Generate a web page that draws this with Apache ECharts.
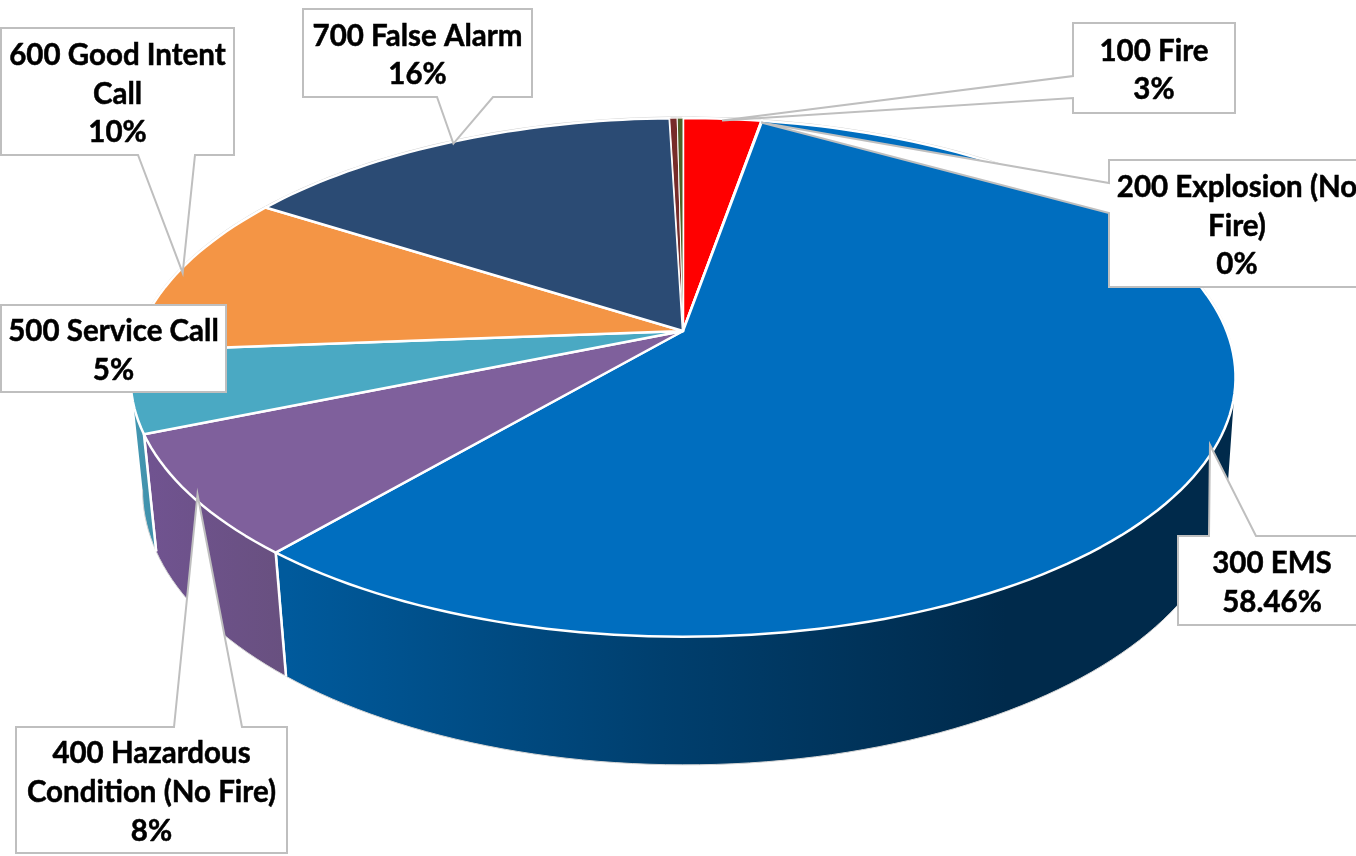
<!DOCTYPE html>
<html>
<head>
<meta charset="utf-8">
<style>html,body{margin:0;padding:0;background:#fff;overflow:hidden}#c{width:1356px;height:856px}</style>
<script src="https://cdn.jsdelivr.net/npm/echarts@6/dist/echarts.min.js"></script>
</head>
<body>
<div id="c"></div>
<script>
// ---- data ----
const categories = ['100 Fire','200 Explosion (No Fire)','300 EMS','400 Hazardous Condition (No Fire)','500 Service Call','600 Good Intent Call','700 False Alarm','800 Severe Weather','900 Special Incident'];
const shares = [2.72,0.02,58.46,7.54,5.03,10.3,15.47,0.26,0.2];
const labelTexts = ['100 Fire\n3%','200 Explosion (No\nFire)\n0%','300 EMS\n58.46%','400 Hazardous\nCondition (No Fire)\n8%','500 Service Call\n5%','600 Good Intent\nCall\n10%','700 False Alarm\n16%',null,null];

// ---- styling ----
const topColors = ['#ff0000','#4f81bd','#006ebf','#7f609c','#4aa9c3','#f49545','#2b4b74','#772c2a','#4f6228'];
const wallStops = {
  2:[[288,'#005a9c'],[662,'#003f6e'],[1006,'#002a4b'],[1240,'#002a4b']],
  3:[[150,'#705390'],[288,'#68507f']],
  4:[[130,'#4398b3'],[160,'#408fa9']]
};
// callout boxes: rectangle and the edge the pointer leaves from
const callouts = [
  {i:0,box:[1073,23,1235,113],side:'left',base:[76,98]},
  {i:1,box:[1109,160,1365,287],side:'left',base:[183,213]},
  {i:2,box:[1178,536,1366,625],side:'top',base:[1209,1256]},
  {i:3,box:[16,727,287,853],side:'top',base:[174,242]},
  {i:4,box:[1,305,226,392],side:null},
  {i:5,box:[1,28,234,155],side:'bottom',base:[138,195]},
  {i:6,box:[303,9,532,97],side:'bottom',base:[437,493]}
];

// ---- perspective of the tilted disc ----
const view = {cx:683,cy:331,a:543.6,b:251,k:-0.179,m:0.018,h:113,dx:2};
function project(deg, z, radius){
  const t = deg*Math.PI/180, q = radius===undefined?1:radius, x = q*Math.sin(t), y = -q*Math.cos(t);
  const d = 1 + view.k*y + view.m*z;
  return [view.cx + view.dx*z + view.a*x/d, view.cy + (view.b*y + view.h*z)/d];
}
function arc(a0,a1,z){
  const n = Math.max(1,Math.ceil(Math.abs(a1-a0)/1.5)), out=[];
  for(let i=0;i<=n;i++) out.push(project(a0+(a1-a0)*i/n,z));
  return out;
}
const total = shares.reduce((s,v)=>s+v,0);
let run = 0;
const ranges = shares.map(v=>{const r=[run/total*360,(run+v)/total*360];run+=v;return r;});
const WALL_FROM=100, WALL_TO=260;

function wallFill(i){
  const s = wallStops[i];
  if(!s) return topColors[i];
  const x0=s[0][0], x1=s[s.length-1][0];
  return new echarts.graphic.LinearGradient(x0,0,x1,0,s.map(p=>({offset:(p[0]-x0)/(x1-x0),color:p[1]})),true);
}
function renderWall(params){
  const i=params.dataIndex, r=ranges[i], kids=[];
  const a0=Math.max(r[0],WALL_FROM), a1=Math.min(r[1],WALL_TO);
  // faint outline round the back of the disc
  [[r[0],Math.min(r[1],WALL_FROM)],[Math.max(r[0],WALL_TO),r[1]]].forEach(g=>{
    if(g[1]>g[0]) kids.push({type:'polyline',shape:{points:arc(g[0],g[1],0).map(p=>[p[0],p[1]-1])},style:{fill:null,stroke:'#cfcfcf',lineWidth:1.2}});
  });
  if(a1>a0){
    const top=arc(a0,a1,0), bot=arc(a0,a1,1);
    kids.push({type:'polygon',shape:{points:top.concat(bot.slice().reverse())},style:{fill:wallFill(i),stroke:null}});
    kids.push({type:'polyline',shape:{points:bot},style:{fill:null,stroke:'#d6d6d6',lineWidth:1}});
    if(r[0]>=WALL_FROM) kids.push({type:'line',shape:{x1:top[0][0],y1:top[0][1],x2:bot[0][0],y2:bot[0][1]},style:{stroke:'#fff',lineWidth:2.5}});
    if(r[1]<=WALL_TO){const t=top[top.length-1],b=bot[bot.length-1];kids.push({type:'line',shape:{x1:t[0],y1:t[1],x2:b[0],y2:b[1]},style:{stroke:'#fff',lineWidth:2.5}});}
  }
  return {type:'group',children:kids};
}
function renderTop(params){
  const i=params.dataIndex, r=ranges[i];
  const pts=[[view.cx,view.cy]].concat(arc(r[0],r[1],0));
  return {type:'polygon',shape:{points:pts},style:{fill:topColors[i],stroke:'#fff',lineWidth:i>=7?1:2.5,lineJoin:'round'}};
}
function renderCallout(params){
  const c=callouts[params.dataIndex], [x0,y0,x1,y1]=c.box, r=ranges[c.i];
  const tip=project((r[0]+r[1])/2,0,0.99);
  let pts;
  if(c.side==='left') pts=[[x0,y0],[x1,y0],[x1,y1],[x0,y1],[x0,c.base[1]],tip,[x0,c.base[0]]];
  else if(c.side==='top') pts=[[x0,y0],[c.base[0],y0],tip,[c.base[1],y0],[x1,y0],[x1,y1],[x0,y1]];
  else if(c.side==='bottom') pts=[[x0,y0],[x1,y0],[x1,y1],[c.base[1],y1],tip,[c.base[0],y1],[x0,y1]];
  else pts=[[x0,y0],[x1,y0],[x1,y1],[x0,y1]];
  return {type:'group',children:[
    {type:'polygon',shape:{points:pts},style:{fill:'#fff',stroke:'#bfbfbf',lineWidth:2,lineJoin:'miter'}},
    {type:'text',style:{text:labelTexts[c.i],x:(x0+x1)/2,y:(y0+y1)/2+2.5,align:'center',verticalAlign:'middle',
      fill:'#000',stroke:'#000',lineWidth:0.5,font:'bold 29.5px Lato, "Open Sans", sans-serif',lineHeight:38.7}}
  ]};
}
const sliceData = categories.map((n,i)=>({name:n,value:shares[i]}));
const chart = echarts.init(document.getElementById('c'),null,{renderer:'canvas'});
chart.setOption({
  animation:false,
  backgroundColor:'#fff',
  series:[
    {type:'custom',name:'walls',coordinateSystem:'none',silent:true,data:sliceData,renderItem:renderWall,z:1},
    {type:'custom',name:'slices',coordinateSystem:'none',silent:true,data:sliceData,renderItem:renderTop,z:2},
    {type:'custom',name:'callouts',coordinateSystem:'none',silent:true,data:callouts.map(c=>({name:categories[c.i],value:shares[c.i]})),renderItem:renderCallout,z:3}
  ]
});
</script>
</body>
</html>
